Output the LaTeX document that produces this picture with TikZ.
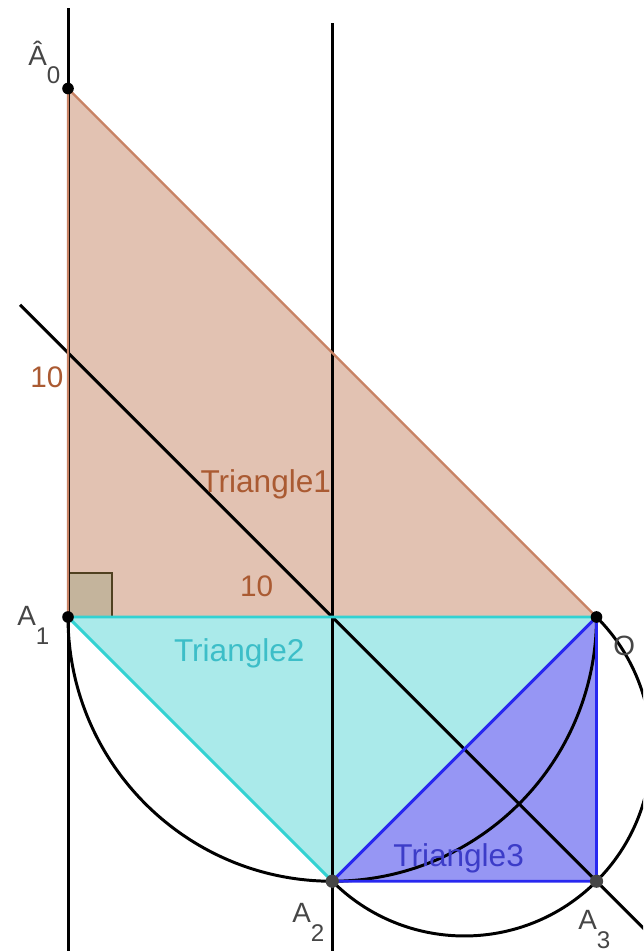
\documentclass[tikz,border=0pt]{standalone}
\usepackage{fontspec}
\setmainfont{Liberation Sans}
\usepackage{tikz}
\usetikzlibrary{calc}

\definecolor{triAfill}{RGB}{226,194,178}
\definecolor{triAline}{RGB}{200,130,100}
\definecolor{triAtext}{RGB}{170,90,50}
\definecolor{rightfill}{RGB}{196,180,156}
\definecolor{rightline}{RGB}{80,64,32}
\definecolor{triBfill}{RGB}{170,234,234}
\definecolor{triBline}{RGB}{50,210,210}
\definecolor{triBtext}{RGB}{60,190,200}
\definecolor{triCfill}{RGB}{150,150,244}
\definecolor{triCline}{RGB}{40,40,240}
\definecolor{triCtext}{RGB}{60,60,200}
\definecolor{ptgray}{RGB}{70,70,70}

\newcommand{\ptname}[2]{#1\raisebox{-10pt}{\fontsize{13}{13}\selectfont #2}}

\begin{document}
\begin{tikzpicture}[scale=1,
    blackline/.style={line width=1.6pt, black},
    ptlabel/.style={anchor=base west, inner sep=0pt, text=ptgray, font=\fontsize{15}{15}\selectfont},
    sidelabel/.style={anchor=base west, inner sep=0pt, text=triAtext, font=\fontsize{16}{16}\selectfont},
    trilabel/.style={anchor=base west, inner sep=0pt, font=\fontsize{17}{17}\selectfont}
]
\useasboundingbox (-1.287,-6.320) rectangle (10.880,11.675);
\clip (-1.287,-6.320) rectangle (10.880,11.675);

% Points
\coordinate (A0) at (0,10);
\coordinate (A1) at (0,0);
\coordinate (O) at (10,0);
\coordinate (A2) at (5,-5);
\coordinate (A3) at (10,-5);
\coordinate (M) at (5,0);

% Fills
\fill[triAfill] (A0) -- (A1) -- (O) -- cycle;
\filldraw[fill=rightfill, draw=rightline, line width=0.8pt] (A1) rectangle (0.83,0.83);
\fill[triBfill] (A1) -- (O) -- (A2) -- cycle;
\fill[triCfill] (A2) -- (O) -- (A3) -- cycle;

% Lines
\draw[blackline] (0,-6.5) -- (0,11.52);
\draw[blackline] (5,-6.5) -- (5,11.24);
\draw[blackline] (-0.908,5.908) -- (11.5,-6.5);

% Half circles
\draw[blackline] (A1) arc[start angle=180, end angle=360, radius=5];
\draw[blackline] (O) arc[start angle=45, end angle=-135, radius=3.5355];

% Triangle edges
\draw[triAline, line width=1.2pt] (A1) -- (A0) -- (O);
\draw[triBline, line width=1.6pt] (A1) -- (O) (A1) -- (A2);
\draw[triCline, line width=1.6pt] (A2) -- (O) -- (A3) -- cycle;

% Dots
\fill (A0) circle (0.11);
\fill (A1) circle (0.11);
\fill (O) circle (0.11);
\fill[ptgray] (A2) circle (0.125);
\fill[ptgray] (A3) circle (0.125);

% Labels
\node[ptlabel] (lA0) at (-0.757,10.44) {\ptname{Â}{0}};
\node[ptlabel] (lA1) at (-0.965,-0.17) {\ptname{A}{1}};
\node[ptlabel] (lO) at (10.31,-0.72) {O};
\node[ptlabel] (lA2) at (4.238,-5.79) {\ptname{A}{2}};
\node[ptlabel] (lA3) at (9.65,-5.92) {\ptname{A}{3}};
\node[sidelabel] (s1) at (-0.72,4.35) {10};
\node[sidelabel] (s2) at (3.25,0.38) {10};
\node[trilabel, text=triAtext] (t1) at (2.50,2.35) {Triangle1};
\node[trilabel, text=triBtext] (t2) at (2.0,-0.85) {Triangle2};
\node[trilabel, text=triCtext] (t3) at (6.15,-4.73) {Triangle3};

\end{tikzpicture}
\end{document}
